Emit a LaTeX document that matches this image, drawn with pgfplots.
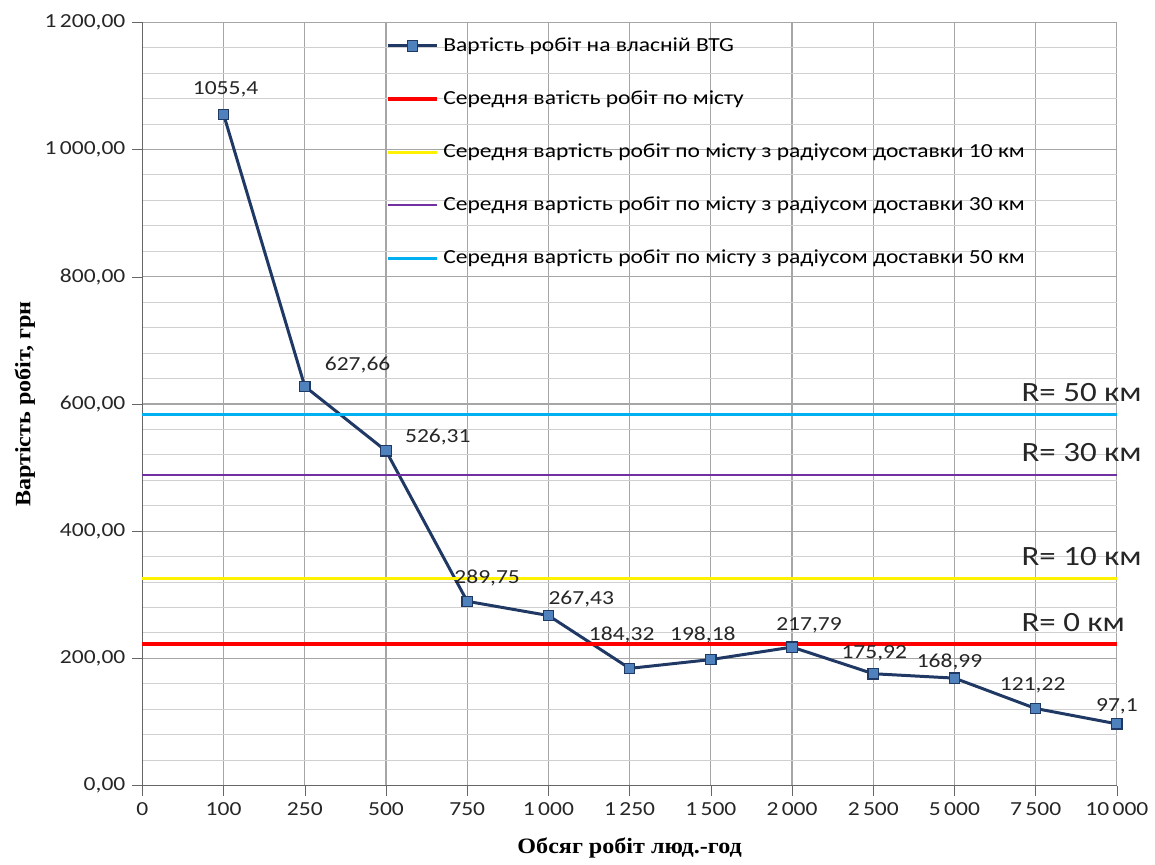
\documentclass[border=0pt]{standalone}
\usepackage{fontspec}
\setmainfont{Carlito}[FakeStretch=1.18]
\newfontfamily\serifbold{Liberation Serif}[FakeStretch=1.1]
\usepackage{pgfplots}
\pgfplotsset{compat=1.18}
\usepackage{pgfplotstable}
\definecolor{navy}{HTML}{1F3864}
\definecolor{mfill}{HTML}{4F81BD}
\definecolor{cpurple}{HTML}{7030A0}
\definecolor{ccyan}{HTML}{00B0F0}
\definecolor{majg}{HTML}{A6A6A6}
\definecolor{ming}{HTML}{D0D0D0}
\pgfplotstableread{
x y dx dy
1 1055.4 1 12.5
2 627.66 26.5 10.5
3 526.31 26 7
4 289.75 10 11.5
5 267.43 16.5 8.5
6 184.32 -4 17
7 198.18 -4 12.5
8 217.79 8.5 11
9 175.92 0.5 10
10 168.99 -2.5 8
11 121.22 -1.5 11.5
12 97.1 0 9
}\costdata
\begin{document}
\begin{tikzpicture}
\begin{axis}[
  scale only axis,
  width=489pt, height=383pt,
  xmin=0, xmax=12, ymin=0, ymax=1200,
  clip=false,
  axis lines=left,
  axis line style={draw=gray!80!black, -},
  xtick={0,...,12},
  xticklabels={0,100,250,500,750,1\,000,1\,250,1\,500,2\,000,2\,500,5\,000,7\,500,10\,000},
  ytick={0,200,...,1200},
  minor y tick num=4,
  tick align=outside,
  major tick length=5pt,
  minor tick length=0pt,
  tick style={gray!80!black},
  grid=both,
  major grid style={majg, line width=0.6pt},
  minor grid style={ming, line width=0.5pt},
  minor x tick num=0,
  ticklabel style={font=\fontsize{10}{12}\selectfont, text=black!85},
  yticklabel style={/pgf/number format/.cd, fixed, fixed zerofill, precision=2, use comma, 1000 sep={\,}},
  /pgf/number format/assume math mode=true,
  xlabel={\serifbold\bfseries\fontsize{11}{13}\selectfont Обсяг робіт люд.-год},
  ylabel={\serifbold\bfseries\fontsize{11}{13}\selectfont Вартість робіт, грн},
  xlabel style={yshift=-4pt},
  ylabel style={yshift=-2pt},
  legend style={
    at={(0.243,0.991)}, anchor=north west,
    draw=none, fill=none,
    font=\fontsize{10}{12}\selectfont,
    row sep=14.3pt,
    cells={anchor=west},
  },
  legend cell align=left,
  legend image code/.code={\draw[mark repeat=2,mark phase=2,#1] plot coordinates {(0pt,0pt) (12.5pt,0pt) (25pt,0pt)};},
]
\addplot[navy, line width=1.5pt, mark=square*, mark size=2.6pt,
  mark options={fill=mfill, draw=navy, line width=0.6pt},
  visualization depends on={\thisrow{dx} \as \dx},
  visualization depends on={\thisrow{dy} \as \dy},
  nodes near coords={\pgfmathprintnumber[fixed,precision=2,use comma,1000 sep={},assume math mode=true]{\pgfplotspointmeta}},
  every node near coord/.append style={anchor=center, xshift=\dx pt, yshift=\dy pt, font=\fontsize{10}{12}\selectfont, text=black!85},
] table[x=x, y=y] {\costdata};
\addlegendentry{Вартість робіт на власній BTG}
\addplot[red, line width=2pt] coordinates {(0,222.5) (12,222.5)};
\addlegendentry{Середня ватість робіт по місту}
\addplot[yellow, line width=1.6pt] coordinates {(0,326) (12,326)};
\addlegendentry{Середня вартість робіт по місту з радіусом доставки 10 км}
\addplot[cpurple, line width=1pt] coordinates {(0,489) (12,489)};
\addlegendentry{Середня вартість робіт по місту з радіусом доставки 30 км}
\addplot[ccyan, line width=1.6pt] coordinates {(0,583.5) (12,583.5)};
\addlegendentry{Середня вартість робіт по місту з радіусом доставки 50 км}
\node[anchor=base west, font=\fontsize{14}{16}\selectfont, text=black!85, yshift=6.5pt] at (axis cs:10.74,583.5) {R= 50 км};
\node[anchor=base west, font=\fontsize{14}{16}\selectfont, text=black!85, yshift=6.5pt] at (axis cs:10.74,489) {R= 30 км};
\node[anchor=base west, font=\fontsize{14}{16}\selectfont, text=black!85, yshift=6.5pt] at (axis cs:10.74,326) {R= 10 км};
\node[anchor=base west, font=\fontsize{14}{16}\selectfont, text=black!85, yshift=6.5pt] at (axis cs:10.74,222.5) {R= 0 км};
\end{axis}
\path ([yshift=4pt]current bounding box.north);
\path ([xshift=-4pt]current bounding box.west);
\end{tikzpicture}
\end{document}
